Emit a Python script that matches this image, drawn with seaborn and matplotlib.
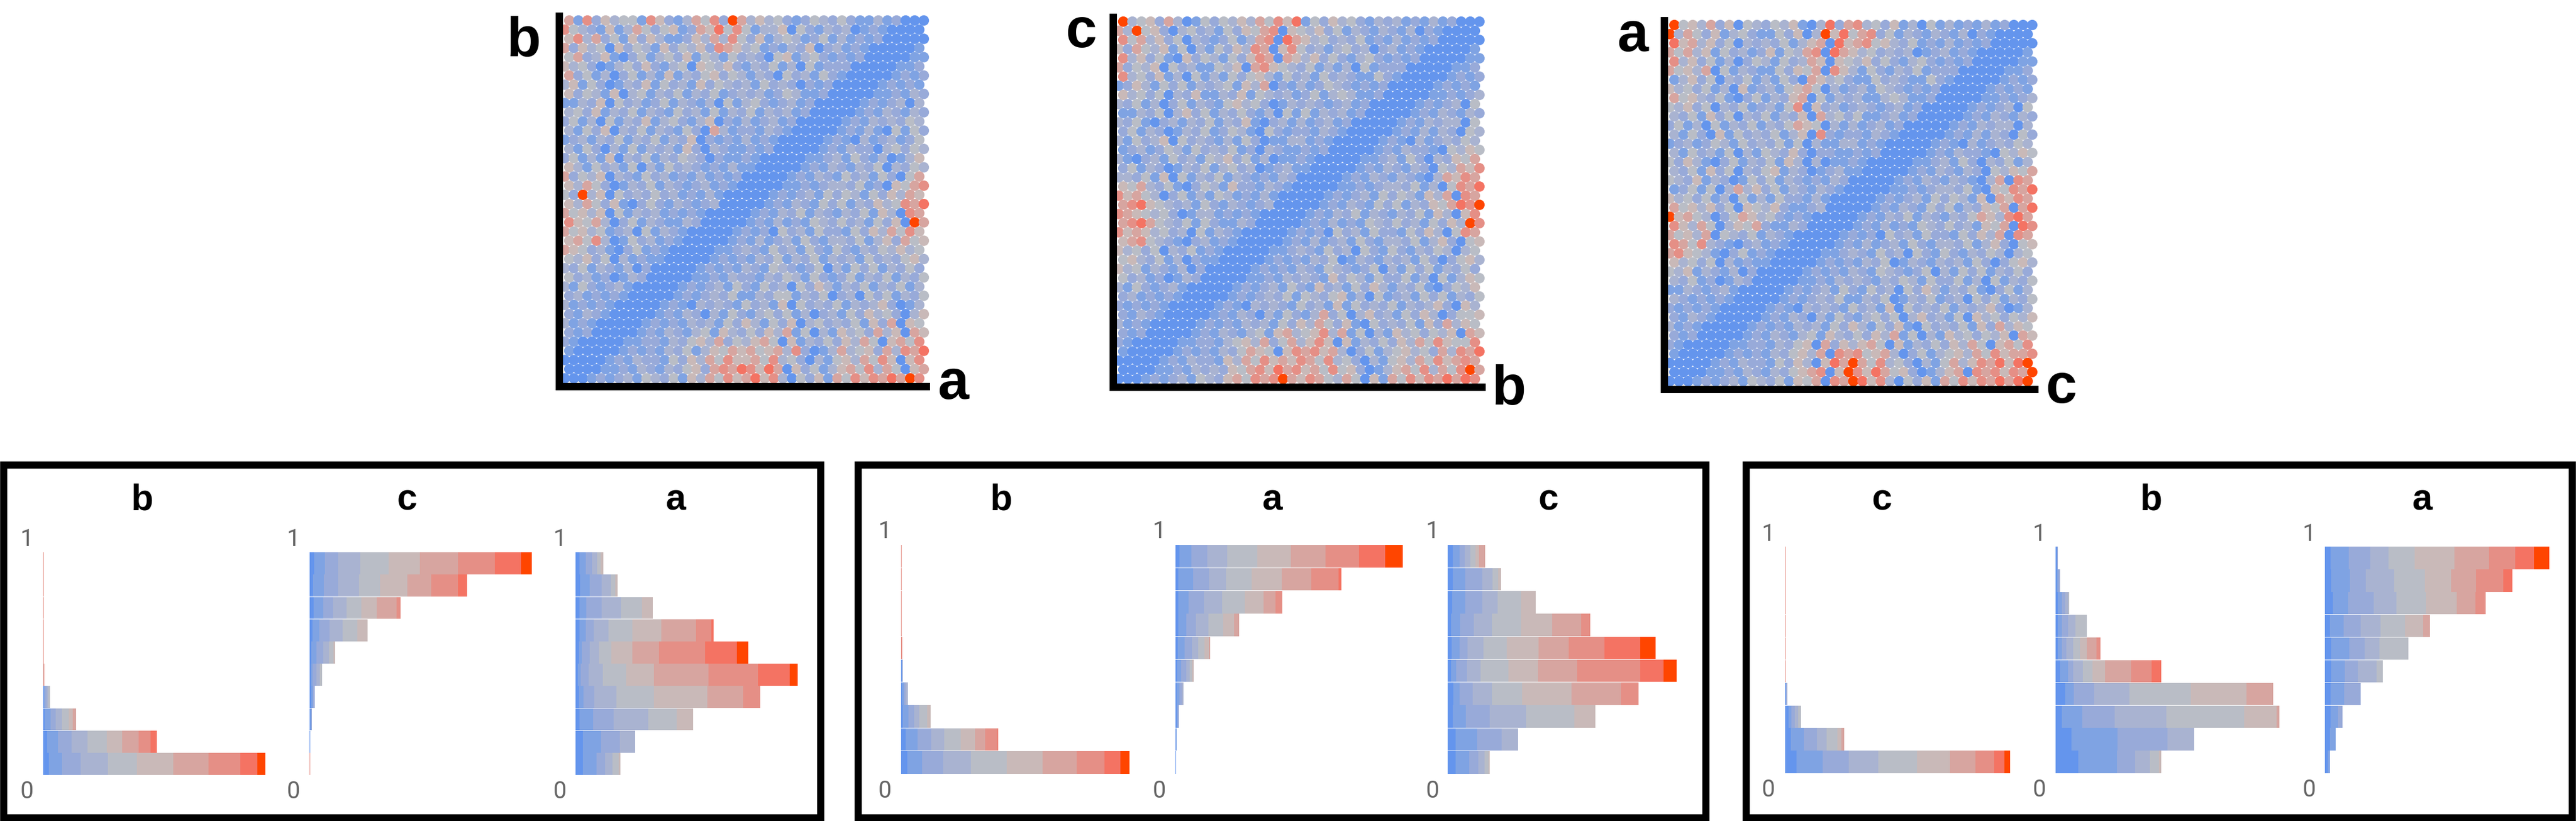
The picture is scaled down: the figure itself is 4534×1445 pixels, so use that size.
import matplotlib
matplotlib.use('Agg')
import matplotlib.pyplot as plt
from matplotlib.patches import Rectangle
import numpy as np
import pandas as pd
import seaborn as sns


#%% DATA

## colour levels (low to high) ----
levels = ['#6495ED', '#7FA3E3', '#98AAD9', '#A9B3D1', '#B9BDC6',
          '#C9B9B8', '#D7A5A0', '#E58F86', '#F47363', '#FF4500']

## scatter panels: colour level of each cell, top row first ----
# the original has thousands of overlapping dots, so this is a coarse reading
# by eye of the picture, region by region, not a dot by dot one
scatter_ab = [
    "6172534417 5213647296 3534212432 4211312000", "7432151364 2451265847 4133504213 2301210000",
    "5736241525 3112536374 2513431241 3121200000", "6253405243 1524352765 3412132502 3121000001",
    "4623510241 3425143142 3204513421 2120000011", "5342013425 2134054352 1324130412 2200000112",
    "6241302413 1513245243 1320423142 1000001212", "3514201325 1423152432 3142320212 0000012121",
    "5243150341 3241324123 2312431120 0000112132", "1132504231 2413213041 3421231200 0001212303",
    "3425132413 2142314132 4132312000 0012132132", "2413041325 1342135021 3123120000 0121323243",
    "3142503241 3214206312 2132100000 1213104142", "1231324132 4132502121 3121000001 2103123124",
    "3142031413 2315203211 2120000012 1322034243", "2413150324 1324320211 2100000112 3142130135",
    "5314231403 1423212131 1000001213 2132403243", "6243503214 2312131212 0000012132 1423142046",
    "5364201324 1321231210 0000112123 3241205467", "4293504232 4231213100 0001212314 2431425365",
    "5364251024 2132123000 0012132142 4132534768", "6453504132 3121210000 0121324132 1324153076",
    "7546302413 2113200000 1213121432 4231425096", "6453412304 1321000001 2120423142 2142536475",
    "5647301423 1210000012 1312314213 3241352645", "6542310241 2100000112 3214231421 4213243534",
    "4352403121 1000001212 1324132413 2314232453", "3241321302 0000012121 3214321240 3142413242",
    "4231201320 0000112132 2132431421 2413241324", "3142123100 0001212314 2142304253 1324132413",
    "2312121000 0012123241 1324413240 2304241324", "3121210000 0121032321 4231504232 4132352013",
    "2132100000 1213203142 1342413023 1425342035", "3121000001 2121323142 5314250342 3241526054",
    "2120000012 1321341532 4253614031 5342635065", "2100000112 2132453624 3564051324 2536405647",
    "1000001212 1324135465 6456372013 6345263768", "0000012132 2142536475 5647342031 4536475057",
    "0000112132 1324526768 7586052413 5647364056", "0001212314 3241536475 6857304251 6475768697"]

scatter_bc = [
    "9345263014 2435364758 1425342132 3121312000", "6394520342 3142546705 4352413213 2130210000",
    "7463524032 1241367086 5342324121 3121200000", "5264351403 1425376057 4231342302 3121000001",
    "7352410524 3142576065 3524213421 2120000011", "6243504231 1435067543 2413130412 2200000112",
    "7342513041 3142453142 3142321142 1000001212", "1253142413 2341536021 3124321212 0000012121",
    "5342403251 1325143231 2413431120 0000112123", "3241302413 2145342013 2321231200 0001212304",
    "1132403524 1324213041 4132312000 0012132132", "3241023132 4132510231 3123120000 0121323304",
    "2413201324 1243104212 2132100000 1213132043", "3142350423 2131420113 3121000001 2103123243",
    "1231243142 3241203211 2120000012 1322104354", "3102314231 4352413011 2100000112 3142032546",
    "2413201324 1342301231 1000001213 2132043657", "3324150413 2413212132 0000012132 1321036576",
    "5463241024 3152213210 0000112123 3241304768", "7564302413 1431213100 0001212314 2431536076",
    "6785432314 2132123000 0012132142 4132546879", "7654342013 3121210000 0121324132 1324153057",
    "6786432414 2113200000 1213121432 4231425397", "7565342304 1321000001 2120423142 2142530476",
    "5674321023 1210000012 1312314213 3241352045", "5342403241 2100000112 3214230421 4213243034",
    "4532413021 1000001212 1324013213 2314202453", "5341321302 0000012121 3214321240 3142413242",
    "4231201320 0000112132 3215243142 2413041354", "3142123100 0001212314 2152314253 1324102435",
    "2312121000 0012123241 4324513041 2314241324", "2121210000 0121032321 4231514232 4132352053",
    "2132100000 1213203142 1362403523 1425302445", "3121000001 2121323142 5364251042 3241526354",
    "2120000012 1321341563 4573614031 5342435065", "2100000112 2134536246 3575051324 2536475447",
    "1000001212 1324654057 6756302413 4534263768", "0000012132 2153647565 7647342031 4536475676",
    "0000112132 3254675867 5647452013 5647364796", "0001212314 3256476796 5764364051 6475768687"]

scatter_ca = [
    "9453625043 2435103826 7342513041 3121312000", "9364251342 1142503958 4672413213 2130210000",
    "8563524032 3241356085 6745324121 3121200000", "6463514231 2514367086 5342323012 3121000001",
    "7352413024 3142365054 3524213421 2120000011", "6453604132 1142546075 3142132412 2200000112",
    "1352403241 3142065342 1142321142 1000001212", "5342413051 2314564031 2314321212 0000012121",
    "6453241024 1325604132 3113431120 0000112123", "4352403241 2314705231 2321231200 0001212304",
    "3241524032 4132506342 4112312000 0012132132", "2413041324 1324654031 3123120000 0121323303",
    "3142051423 2413507212 2132100000 1213132042", "1231243142 3241403113 3121000001 2103123243",
    "3142314031 4325202211 2120000012 1322104354", "4253102413 2415303011 2100000112 3142032413",
    "3241524032 4513201231 1000001213 2132043546", "4325132014 2413212132 0000012132 1321036076",
    "1241403635 2413213210 0000112123 3241054768", "5342413041 3142213100 0001212314 2431506576",
    "6453524054 3521123000 0012132142 4132546068", "9564302465 3421210000 0121324132 1324653786",
    "7536403546 2113200000 1213121432 4231546087", "6453604324 1321000001 2120423142 2142536076",
    "7647321023 1210000012 1312314213 3241352045", "6754310241 2100000112 3214230421 4213243034",
    "5342403121 1000001212 1324013213 2314202453", "4351321302 0000012121 3214321240 3142413242",
    "3241201320 0000112132 3213243142 2413041324", "1132123100 0001212314 2142304253 1324102413",
    "3212121000 0012123241 1324013241 2304241324", "2121210000 0121032321 4231504232 4132352013",
    "2132100000 1213203142 1342403523 1405342435", "3121000001 2121323142 5314251042 3241526354",
    "2120000012 1321341532 4253614031 5342435065", "2100000112 2132450625 3564051324 2536405647",
    "1000001212 1324536076 7456302413 4536475667", "0000012132 2142530586 9647342031 4635768589",
    "0000112132 1324567059 7586452013 5607675769", "0001212314 3241546076 9857304251 6475768689"]

## stacked bars: cumulative width per colour level, top bin first ----
thin = [0, 0, 0, 0, 0, 0, 0, 1.5]

g1_b = [thin, thin, thin, thin, [0, 0, 0, 0, 0, 0, 0, 2], [0, 0, 0, 0, 0, 1, 2, 3], [2, 4, 7, 10, 13],
        [4, 14, 24, 36, 48, 56, 62], [8, 28, 53, 83, 119, 148, 178, 201, 212],
        [11, 35, 70, 121, 175, 243, 309, 368, 400, 415]]
g1_c = [[8, 29, 53, 94, 147, 205, 276, 345, 394, 414], [6, 27, 53, 92, 131, 182, 227, 276, 293],
        [7, 25, 43, 69, 96, 125, 162, 169], [5, 18, 37, 61, 89, 108], [3, 13, 25, 36, 45, 48],
        [2, 5, 13, 19, 23], [3, 6, 10], [1, 3, 4], [1.5], thin]
g1_a = [[7, 19, 31, 40, 47, 52], [9, 27, 49, 66, 74, 78], [7, 20, 49, 85, 124, 144],
        [7, 19, 34, 61, 106, 160, 225, 253, 257], [6, 12, 26, 43, 67, 106, 156, 242, 301, 322],
        [4, 10, 24, 51, 94, 146, 248, 340, 399, 414], [6, 15, 35, 76, 146, 246, 312, 344],
        [7, 33, 71, 136, 189, 219], [14, 48, 83, 111], [14, 39, 55, 69, 81, 84]]

g2_b = [thin, thin, thin, thin, [0, 0, 0, 0, 0, 0, 0, 2.5], [1, 2, 3], [2, 5, 8, 12],
        [3, 13, 23, 33, 47, 53], [8, 30, 54, 77, 107, 132, 151, 173, 174],
        [11, 38, 75, 125, 189, 254, 315, 365, 393, 409]]
g2_a = [[7, 29, 57, 93, 147, 207, 269, 329, 376, 407], [5, 32, 60, 91, 136, 190, 243, 292, 297],
        [5, 23, 51, 83, 124, 158, 179, 191], [5, 19, 37, 59, 86, 105, 114], [4, 16, 30, 41, 52, 60, 62],
        [3, 10, 19, 25, 30, 33], [2, 7, 11, 14], [2, 4, 6], [1, 2], [1.5]]
g2_c = [[9, 21, 31, 41, 50, 56, 67], [9, 32, 62, 80, 91, 96], [8, 32, 62, 90, 131, 158],
        [6, 22, 47, 79, 131, 187, 239, 256], [7, 21, 36, 64, 106, 163, 217, 281, 345, 373],
        [6, 15, 35, 59, 109, 162, 232, 345, 387, 410], [10, 21, 45, 79, 133, 222, 311, 342],
        [9, 33, 75, 141, 227, 265], [14, 53, 97, 126], [14, 39, 55, 66, 73, 75]]

g3_c = [thin, thin, thin, thin, thin, thin, [1, 2, 3, 4], [6, 12, 18, 24, 29],
        [11, 35, 59, 77, 97, 104, 109], [21, 69, 118, 172, 243, 304, 351, 386, 405, 416]]
g3_b = [[3, 4, 5], [3, 6, 8, 9], [5, 12, 18, 24, 26], [5, 12, 24, 37, 58], [5, 12, 20, 33, 46, 58, 76, 83],
        [9, 24, 33, 51, 69, 92, 140, 178, 196], [18, 34, 72, 137, 250, 353, 402],
        [12, 50, 110, 205, 349, 409, 414], [30, 115, 207, 257], [42, 114, 147, 175, 192, 196]]
g3_a = [[11, 44, 84, 118, 166, 239, 303, 351, 386, 414], [12, 46, 76, 128, 185, 233, 279, 329, 346],
        [15, 43, 90, 132, 187, 243, 278, 297], [9, 35, 66, 103, 148, 182, 194], [12, 45, 73, 101, 154],
        [12, 37, 61, 96, 107], [10, 36, 66], [10, 24, 33], [9, 20], [5, 9]]

x_labels = ['a', 'b', 'c']
y_labels = ['b', 'c', 'a']
hist_titles = [['b', 'c', 'a'], ['b', 'a', 'c'], ['c', 'b', 'a']]


#%% LAYOUT

W, H = 4534, 1445
sns.set_style('white')
plt.rcParams['font.family'] = ['Liberation Sans', 'DejaVu Sans']
plt.rcParams['text.color'] = 'black'
fig = plt.figure(figsize=(W/100, H/100), dpi=100, facecolor='white')


def fx(px):
    return px/W


def fy(py):
    return 1 - py/H


def pt(px):
    return px*0.72


#%% SCATTER PANELS

# left, right, top, bottom of the dots, then label baselines
scatter_boxes = [(990, 1630, 28, 674, (922, 99), (1678, 702)),
                 (1965, 2608, 30, 675, (1903, 83), (2656, 712)),
                 (2935, 3581, 36, 679, (2874, 90), (3628, 709))]

for grid, box, xl, yl in zip([scatter_ab, scatter_bc, scatter_ca], scatter_boxes, x_labels, y_labels):
    L, R, T, B, ypos, xpos = box
    filas = [r.replace(' ', '') for r in grid]
    # odd rows are shifted half a cell, the dots of the original are not in columns
    df = pd.DataFrame([{'x': j + (0.25 if i % 2 else 0.75), 'y': 40 - i - 0.5, 'nivel': int(c)}
                       for i, r in enumerate(filas) for j, c in enumerate(r)])

    ax = fig.add_axes([fx(L - 6.5), fy(B + 6), (R - L + 6.5)/W, (B - T + 6)/H])
    sns.scatterplot(data=df, x='x', y='y', hue='nivel', palette=dict(enumerate(levels)),
                    s=175, linewidth=0, legend=False, clip_on=False, ax=ax)
    ax.set_xlim(-6.5*40/(R - L), 40)
    ax.set_ylim(-6*40/(B - T), 40)
    ax.set(xlabel='', ylabel='', xticks=[], yticks=[])
    ax.patch.set_alpha(0)
    sns.despine(ax=ax)
    for lado in ['left', 'bottom']:
        ax.spines[lado].set_linewidth(pt(13))
        ax.spines[lado].set_color('black')
        ax.spines[lado].set_zorder(5)

    fig.text(fx(ypos[0]), fy(ypos[1]), yl, fontsize=71, fontweight='bold', ha='center', va='baseline')
    fig.text(fx(xpos[0]), fy(xpos[1]), xl, fontsize=71, fontweight='bold', ha='center', va='baseline')


#%% STACKED BARS

# frame, bin rows, px per unit, bar origins, title x, tick x, tick baselines
hist_groups = [
    dict(frame=(6, 1444), rows=(972, 1364), k=0.944, x0=(75.5, 545, 1013), tx=(250, 716, 1189),
         lab=(47, 516, 985), base=(961, 1405), data=(g1_b, g1_c, g1_a)),
    dict(frame=(1510, 3002), rows=(959, 1362), k=0.982, x0=(1586, 2069, 2548), tx=(1762, 2239, 2725),
         lab=(1557, 2040, 2521), base=(947, 1404), data=(g2_b, g2_a, g2_c)),
    dict(frame=(3073, 4527), rows=(962, 1361), k=0.953, x0=(3142, 3617.5, 4092), tx=(3312, 3786, 4263),
         lab=(3112, 3589, 4064), base=(952, 1402), data=(g3_c, g3_b, g3_a)),
]

for g, titulos in zip(hist_groups, hist_titles):
    fig.add_artist(Rectangle((fx(g['frame'][0]), fy(1438.5)), (g['frame'][1] - g['frame'][0])/W, 620.5/H,
                             transform=fig.transFigure, fill=False, edgecolor='black', linewidth=pt(12.5)))
    top, bottom = g['rows']
    for filas, x0, tx, lx, titulo in zip(g['data'], g['x0'], g['tx'], g['lab'], titulos):
        registros = []
        for i, fila in enumerate(filas):
            acum = list(fila) + [fila[-1]]*(10 - len(fila))
            anchos = np.diff([0] + acum)
            for n, a in enumerate(anchos):
                registros.append({'pos': 1 - (i + 0.5)/10, 'ancho': a, 'nivel': n})
        df = pd.DataFrame(registros)

        ax = fig.add_axes([fx(x0), fy(bottom), 420*g['k']/W, (bottom - top)/H])
        # seaborn stacks the last hue first
        sns.histplot(data=df, y='pos', weights='ancho', hue='nivel', hue_order=list(range(9, -1, -1)),
                     palette=dict(enumerate(levels)), bins=10, binrange=(0, 1), multiple='stack', alpha=1,
                     linewidth=0, shrink=0.985, legend=False, ax=ax)
        ax.set_xlim(0, 420)
        ax.set_ylim(0, 1)
        ax.axis('off')

        fig.text(fx(tx), fy(897), titulo, fontsize=46, fontweight='bold', ha='center', va='baseline')
        for valor, base in zip(['1', '0'], g['base']):
            fig.text(fx(lx), fy(base), valor, fontsize=30, color='#666666', family='Roboto',
                     ha='center', va='baseline')

fig.savefig('out.png', dpi=100)
